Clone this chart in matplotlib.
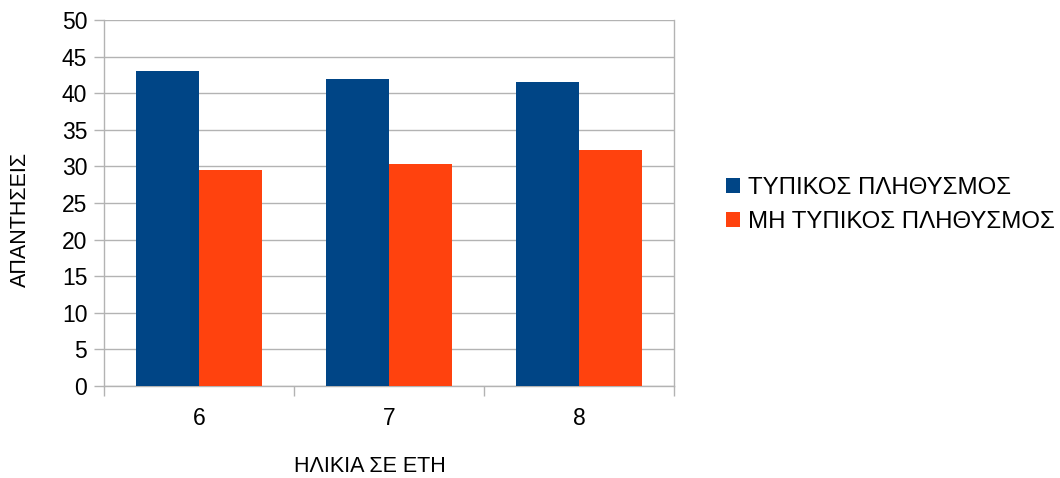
import matplotlib
matplotlib.use("Agg")
import matplotlib.pyplot as plt
import numpy as np
from matplotlib.patches import Patch

plt.rcParams["font.family"] = ["Liberation Sans", "DejaVu Sans"]

ages = ["6", "7", "8"]
typical = [43.0, 42.0, 41.5]
atypical = [29.5, 30.3, 32.3]
series_names = ["ΤΥΠΙΚΟΣ ΠΛΗΘΥΣΜΟΣ", "ΜΗ ΤΥΠΙΚΟΣ ΠΛΗΘΥΣΜΟΣ"]
colors = ["#004586", "#ff420e"]

W, H = 1060, 478
fig = plt.figure(figsize=(W / 100, H / 100), dpi=100)
ax = fig.add_axes([104 / W, 1 - 386 / H, (674 - 104) / W, (386 - 20) / H])

x = np.arange(len(ages))
bw = 1 / 3
ax.bar(x - bw / 2, typical, bw, color=colors[0], zorder=3)
ax.bar(x + bw / 2, atypical, bw, color=colors[1], zorder=3)

ax.set_xlim(-0.5, len(ages) - 0.5)
ax.set_ylim(0, 50)
ax.set_yticks(range(0, 51, 5))
ax.grid(axis="y", color="#b3b3b3", lw=1, zorder=0)

# category boundaries as ticks, labels at centres
ax.set_xticks(np.arange(-0.5, len(ages), 1.0))
ax.set_xticklabels([])
ax.set_xticks(x, minor=True)
ax.set_xticklabels(ages, minor=True)
ax.tick_params(axis="x", which="major", length=7, color="#b3b3b3", width=1)
ax.tick_params(axis="x", which="minor", length=0, pad=15, labelsize=16.5)
ax.tick_params(axis="y", length=7, color="#b3b3b3", width=1, labelsize=16.5, pad=5)

for side in ("left", "right", "top", "bottom"):
    ax.spines[side].set_color("#b3b3b3")
    ax.spines[side].set_linewidth(1)
ax.spines["top"].set_visible(False)

fig.text(20.5 / W, 1 - 219 / H, "ΑΠΑΝΤΗΣΕΙΣ", rotation=90, ha="center", va="center", fontsize=15.5)
fig.text(370 / W, 1 - 466 / H, "ΗΛΙΚΙΑ ΣΕ ΕΤΗ", ha="center", va="center", fontsize=15.5)

handles = [Patch(facecolor=c, edgecolor="none") for c in colors]
fig.legend(handles, series_names, loc="center left", bbox_to_anchor=(726 / W, 1 - 205 / H),
           frameon=False, fontsize=17.3, handlelength=0.58, handleheight=0.58,
           handletextpad=0.35, labelspacing=0.52, borderaxespad=0, borderpad=0)

fig.savefig("out.png", dpi=100)
